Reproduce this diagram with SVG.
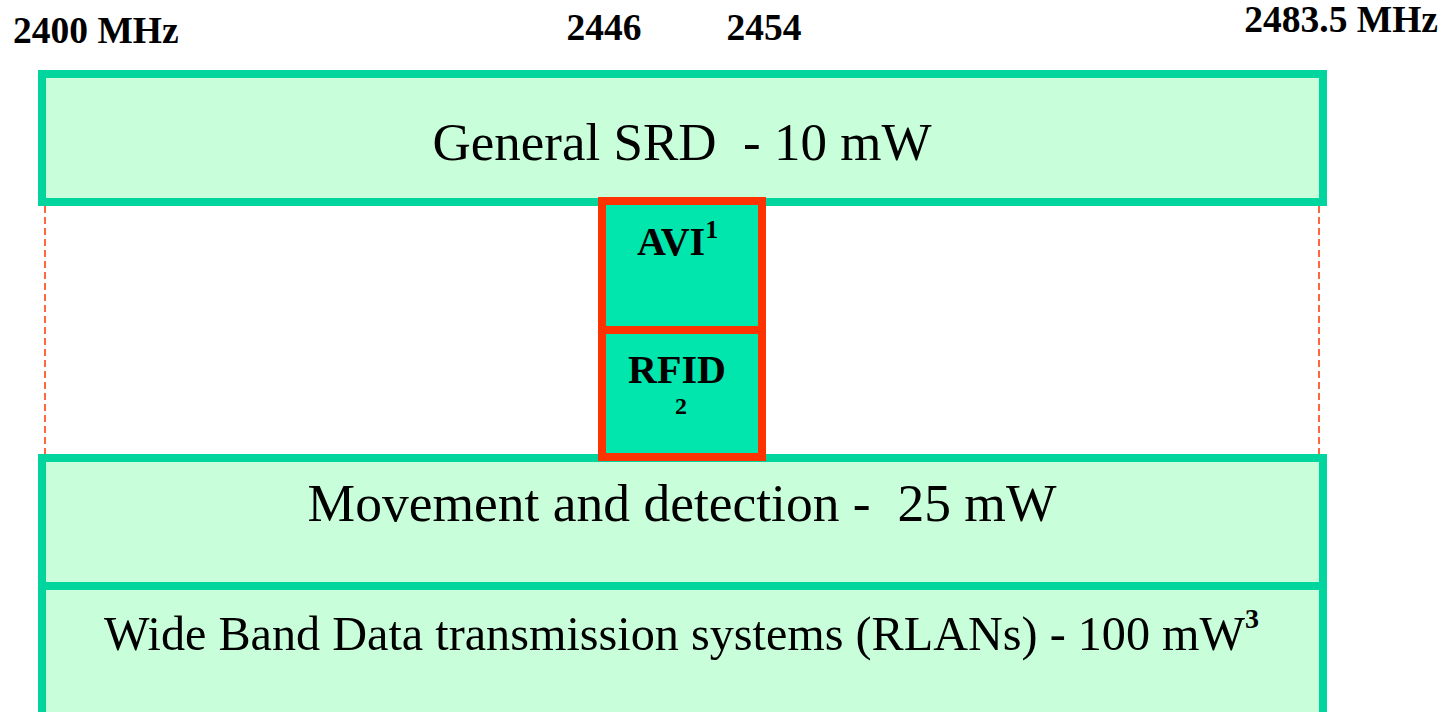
<svg xmlns="http://www.w3.org/2000/svg" width="1445" height="712" viewBox="0 0 1445 712">
<style>
.band{fill:#C8FFDA;stroke:#00D59E;stroke-width:8}
.sub{fill:#00E6AC;stroke:#FF3300;stroke-width:8}
.dash{stroke:#FF3300;stroke-width:1.5;stroke-dasharray:7 4;fill:none}
.freq{font-family:"Liberation Serif",serif;font-weight:bold;font-size:37.5px;fill:#000}
.lbl{font-family:"Liberation Serif",serif;fill:#000;white-space:pre}
.blbl{font-family:"Liberation Serif",serif;font-weight:bold;fill:#000}
</style>
<rect width="1445" height="712" fill="#fff"/>
<g id="connectors">
<line class="dash" x1="45" y1="206" x2="45" y2="456"/>
<line class="dash" x1="1319" y1="206" x2="1319" y2="456"/>
</g>
<g id="freq-labels">
<text class="freq" x="13" y="43">2400 MHz</text>
<text class="freq" x="604" y="40" text-anchor="middle">2446</text>
<text class="freq" x="764" y="40" text-anchor="middle">2454</text>
<text class="freq" x="1438" y="32" text-anchor="end">2483.5 MHz</text>
</g>
<g id="general-srd">
<rect class="band" x="42" y="74" width="1281" height="128"/>
<text class="lbl" x="682" y="160" font-size="53" text-anchor="middle" xml:space="preserve">General SRD  - 10 mW</text>
</g>
<g id="movement">
<rect class="band" x="42" y="458" width="1281" height="128"/>
<text class="lbl" x="682" y="521" font-size="53.5" text-anchor="middle" xml:space="preserve">Movement and detection -  25 mW</text>
</g>
<g id="rlan">
<rect class="band" x="42" y="586" width="1281" height="132"/>
<text class="lbl" x="104" y="650" font-size="48.2">Wide Band Data transmission systems (RLANs) - 100 mW<tspan class="blbl" font-size="28" dy="-22">3</tspan></text>
</g>
<g id="avi">
<rect class="sub" x="602" y="201" width="160" height="129"/>
<text class="blbl" x="637" y="255" font-size="40">AVI<tspan font-size="26" dy="-17">1</tspan></text>
</g>
<g id="rfid">
<rect class="sub" x="602" y="330" width="160" height="127"/>
<text class="blbl" x="677" y="383" font-size="40" text-anchor="middle">RFID</text>
<text class="blbl" x="681" y="414" font-size="24" text-anchor="middle">2</text>
</g>
</svg>
